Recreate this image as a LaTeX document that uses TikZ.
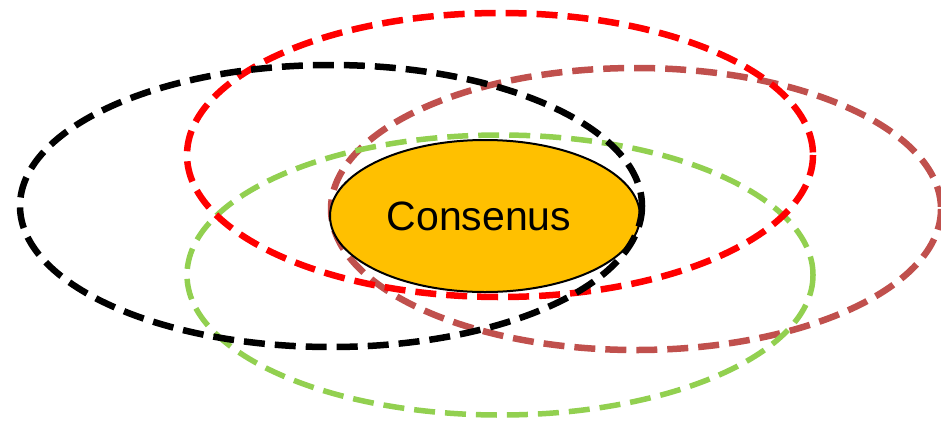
\documentclass[tikz,border=0pt]{standalone}
\usepackage{fontspec}
\setmainfont{Liberation Sans}
\usetikzlibrary{shapes.geometric}
\definecolor{rojo}{RGB}{255,0,0}
\definecolor{marron}{RGB}{192,80,77}
\definecolor{verde}{RGB}{146,208,80}
\definecolor{naranja}{RGB}{255,192,0}
\begin{document}
\begin{tikzpicture}[x=1pt, y=-1pt,
    anillo/.style={line width=6.5pt, dash pattern=on 21pt off 10pt}]
    \useasboundingbox (0, 0) rectangle (941, 426);
    % Elipses
    \draw[anillo, marron] (636, 209) ellipse [x radius=305, y radius=141];
    \draw[anillo, verde, line width=5.5pt] (500, 275) ellipse [x radius=313, y radius=140];
    \draw[anillo, rojo] (500, 155) ellipse [x radius=313, y radius=142];
    % Centro
    \node[ellipse, draw=black, line width=2pt, fill=naranja, minimum width=310pt,
        minimum height=152pt, inner sep=0pt, font=\fontsize{41}{48}\selectfont]
        (consenso) at (485, 216) {\hspace*{-12pt}Consenus};
    \draw[anillo, black] (331, 206) ellipse [x radius=311, y radius=141];
\end{tikzpicture}
\end{document}
